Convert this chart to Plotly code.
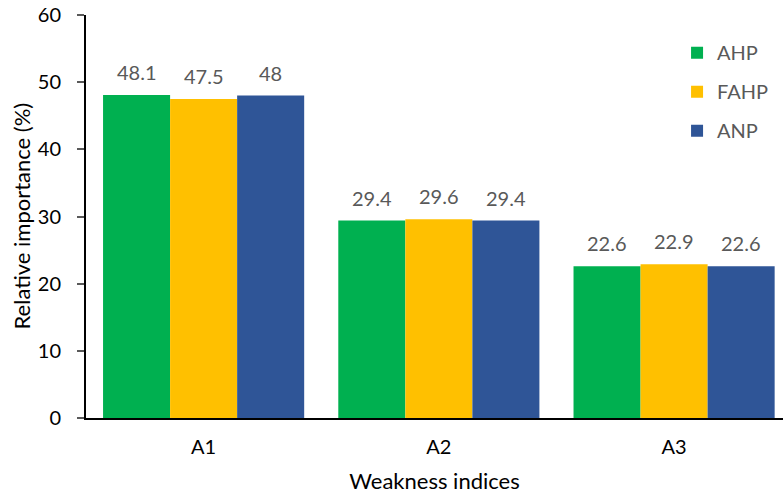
import plotly.graph_objects as go

categories = ["A1", "A2", "A3"]
ahp = [48.1, 29.4, 22.6]
fahp = [47.5, 29.6, 22.9]
anp = [48, 29.4, 22.6]
series_names = ["AHP", "FAHP", "ANP"]
colors = ["#00B050", "#FFC000", "#2F5597"]
y_ticks = [0, 10, 20, 30, 40, 50, 60]

font_family = "Lato, Carlito, Calibri, sans-serif"
label_gray = "#595959"

fig = go.Figure()
series = [ahp, fahp, anp]
for i, (name, vals, col) in enumerate(zip(series_names, series, colors)):
    fig.add_trace(go.Bar(
        x=categories, y=vals, name=name,
        marker=dict(color=col, line=dict(width=0)),
        legendgroup=name,
    ))

# value labels above each bar
bar_px = 67
for i, vals in enumerate(series):
    for cat, v in zip(categories, vals):
        fig.add_annotation(
            x=cat, y=v, text=f"{v:g}", showarrow=False,
            xshift=(i - 1) * bar_px, yanchor="bottom", yshift=9,
            font=dict(family=font_family, size=20, color=label_gray),
        )

# y-axis title as a rotated annotation
fig.add_annotation(
    xref="paper", yref="paper", x=0, y=0.5, xshift=-65,
    xanchor="center", yanchor="middle",
    text="Relative importance (%)", textangle=-90, showarrow=False,
    font=dict(family=font_family, size=22, color="#000000"),
)

fig.update_layout(
    width=783, height=494,
    margin=dict(l=86, r=0, t=15, b=76),
    paper_bgcolor="white", plot_bgcolor="white",
    barmode="group", bargap=0.145, bargroupgap=0,
    font=dict(family=font_family, color="#000000"),
    legend=dict(
        x=0.848, y=0.955, xanchor="left", yanchor="top",
        font=dict(family=font_family, size=20, color=label_gray),
        tracegroupgap=10, bgcolor="rgba(0,0,0,0)",
        itemwidth=30,
    ),
    showlegend=True,
)
fig.update_xaxes(
    range=[-0.5, 2.463], showline=True, linecolor="#000000", linewidth=2,
    ticks="", showgrid=False, tickfont=dict(size=20, color="#000000"),
    ticklabelstandoff=10,
    title=dict(text="Weakness indices", font=dict(size=22, color="#000000"), standoff=18),
)
fig.update_yaxes(
    range=[0, 60], tickvals=y_ticks, showline=True, linecolor="#000000", linewidth=2,
    ticks="outside", ticklen=7, tickcolor="#595959", tickwidth=1.5,
    ticklabelstandoff=12,
    showgrid=False, zeroline=False, tickfont=dict(size=20, color="#000000"),
)

fig.write_html("out.html")
